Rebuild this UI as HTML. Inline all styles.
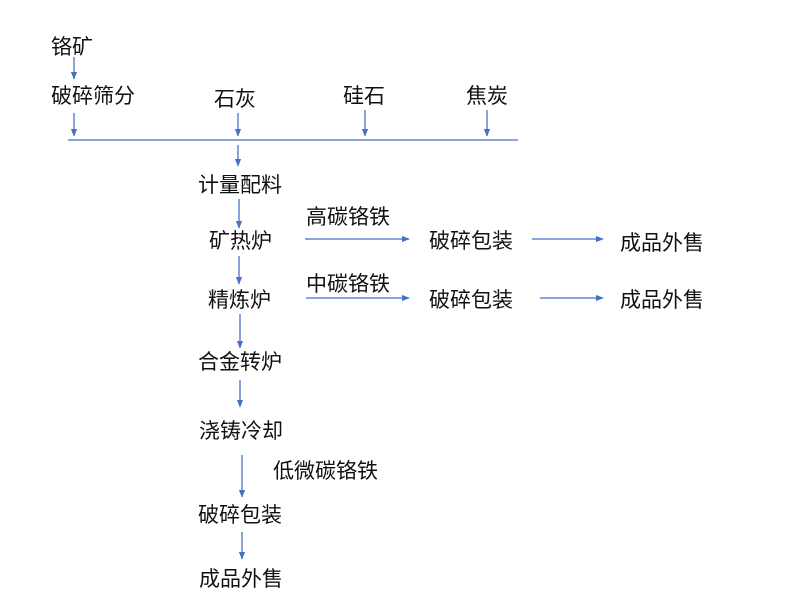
<!DOCTYPE html>
<html><head><meta charset="utf-8"><style>
html,body{margin:0;padding:0;background:#fff;}
svg text{font-family:"Liberation Sans","Noto Sans CJK SC",sans-serif;font-size:21px;fill:#111;}
</style></head><body>
<svg width="800" height="600" xmlns="http://www.w3.org/2000/svg">
<defs><marker id="a" viewBox="0 0 10 10" refX="9" refY="5" markerWidth="6" markerHeight="6" orient="auto"><path d="M0,1 L10,5 L0,9 z" fill="#4472C4"/></marker></defs>
<g stroke="#4472C4" stroke-width="1.3" fill="none">
<line x1="74" y1="57" x2="74" y2="79" marker-end="url(#a)"/>
<line x1="74" y1="113" x2="74" y2="136" marker-end="url(#a)"/>
<line x1="238" y1="113" x2="238" y2="136" marker-end="url(#a)"/>
<line x1="365" y1="110" x2="365" y2="136" marker-end="url(#a)"/>
<line x1="487" y1="110" x2="487" y2="136" marker-end="url(#a)"/>
<line x1="68" y1="140" x2="518" y2="140"/>
<line x1="238" y1="145" x2="238" y2="166" marker-end="url(#a)"/>
<line x1="239" y1="199" x2="239" y2="228" marker-end="url(#a)"/>
<line x1="239" y1="256" x2="239" y2="284" marker-end="url(#a)"/>
<line x1="240" y1="314" x2="240" y2="348" marker-end="url(#a)"/>
<line x1="240" y1="380" x2="240" y2="407" marker-end="url(#a)"/>
<line x1="242" y1="455" x2="242" y2="497" marker-end="url(#a)"/>
<line x1="242" y1="532" x2="242" y2="559" marker-end="url(#a)"/>
<line x1="305" y1="239" x2="409" y2="239" marker-end="url(#a)"/>
<line x1="532" y1="239" x2="603" y2="239" marker-end="url(#a)"/>
<line x1="306" y1="298" x2="409" y2="298" marker-end="url(#a)"/>
<line x1="540" y1="298" x2="603" y2="298" marker-end="url(#a)"/>
</g>
<text x="51" y="54">铬矿</text>
<text x="51" y="103">破碎筛分</text>
<text x="214" y="106">石灰</text>
<text x="343" y="103">硅石</text>
<text x="466" y="103">焦炭</text>
<text x="198" y="192">计量配料</text>
<text x="209" y="248">矿热炉</text>
<text x="306" y="224">高碳铬铁</text>
<text x="429" y="248">破碎包装</text>
<text x="620" y="250">成品外售</text>
<text x="208" y="307">精炼炉</text>
<text x="306" y="291">中碳铬铁</text>
<text x="429" y="307">破碎包装</text>
<text x="620" y="307">成品外售</text>
<text x="198" y="369">合金转炉</text>
<text x="199" y="438">浇铸冷却</text>
<text x="273" y="478">低微碳铬铁</text>
<text x="198" y="522">破碎包装</text>
<text x="199" y="586">成品外售</text>
</svg>
</body></html>
